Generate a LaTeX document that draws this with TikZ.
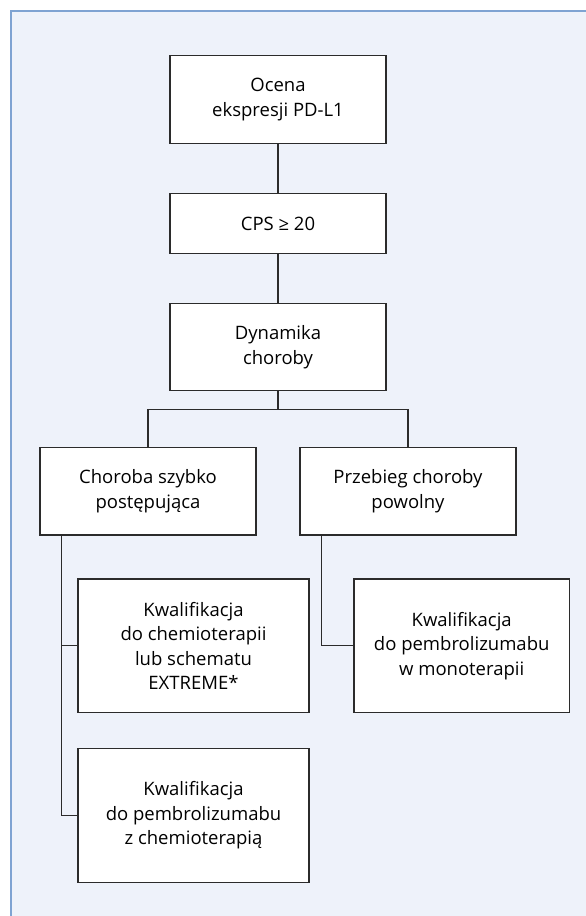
\documentclass[tikz,border=0pt]{standalone}
\usepackage{fontspec}
\setmainfont{Open Sans}
\usetikzlibrary{positioning}

\definecolor{panelbg}{HTML}{EEF2FA}
\definecolor{panelline}{HTML}{7FA3D2}
\definecolor{boxline}{HTML}{2B2B2B}

\tikzset{
  stepbox/.style={draw=boxline, line width=1.4pt, fill=white, align=center,
    inner sep=0pt, font=\fontsize{18.5}{24.5}\selectfont},
  link/.style={draw=boxline, line width=1.4pt},
}

\begin{document}
\begin{tikzpicture}[x=1pt,y=-1pt]
    \useasboundingbox (0,0) rectangle (586,916);

    % Panel
    \fill[panelbg] (11,11) rectangle (586,916);
    \draw[panelline,line width=1.5pt] (586,11) -- (11,11) -- (11,916);

    % Main column
    \node[stepbox, minimum width=216pt, minimum height=87.6pt] (ocena) at (278,99.5)
        {Ocena\\ekspresji PD-L1};
    \node[stepbox, minimum width=216pt, minimum height=60.4pt] (cps) at (278,223.5)
        {CPS ≥ 20};
    \node[stepbox, minimum width=216pt, minimum height=87pt] (dyn) at (278,347.2)
        {Dynamika\\choroby};

    % Two branches
    \node[stepbox, minimum width=216pt, minimum height=87.3pt] (szybka) at (148,491.3)
        {Choroba szybko\\postępująca};
    \node[stepbox, minimum width=216pt, minimum height=87.3pt] (powolna) at (408,491.3)
        {Przebieg choroby\\powolny};

    % Qualification boxes
    \node[stepbox, minimum width=231pt, minimum height=133.4pt] (chemio) at (193.5,645.7)
        {Kwalifikacja\\do chemioterapii\\lub schematu\\EXTREME*};
    \node[stepbox, minimum width=215.3pt, minimum height=133.4pt] (mono) at (461.7,645.7)
        {Kwalifikacja\\do pembrolizumabu\\w monoterapii};
    \node[stepbox, minimum width=231pt, minimum height=134pt] (pembro) at (193.5,815.5)
        {Kwalifikacja\\do pembrolizumabu\\z chemioterapią};

    % Connectors
    \coordinate (fork) at (278,409.3);
    \coordinate (trunkL) at ([xshift=22pt]szybka.south west);
    \coordinate (trunkR) at ([xshift=22pt]powolna.south west);

    \draw[link] (ocena) -- (cps);
    \draw[link] (cps) -- (dyn);
    \draw[link] (dyn) -- (fork);
    \draw[link] (szybka) |- (fork) -| (powolna);
    \draw[link] (trunkL) |- (chemio.west);
    \draw[link] (trunkL) |- (pembro.west);
    \draw[link] (trunkR) |- (mono.west);
\end{tikzpicture}
\end{document}
